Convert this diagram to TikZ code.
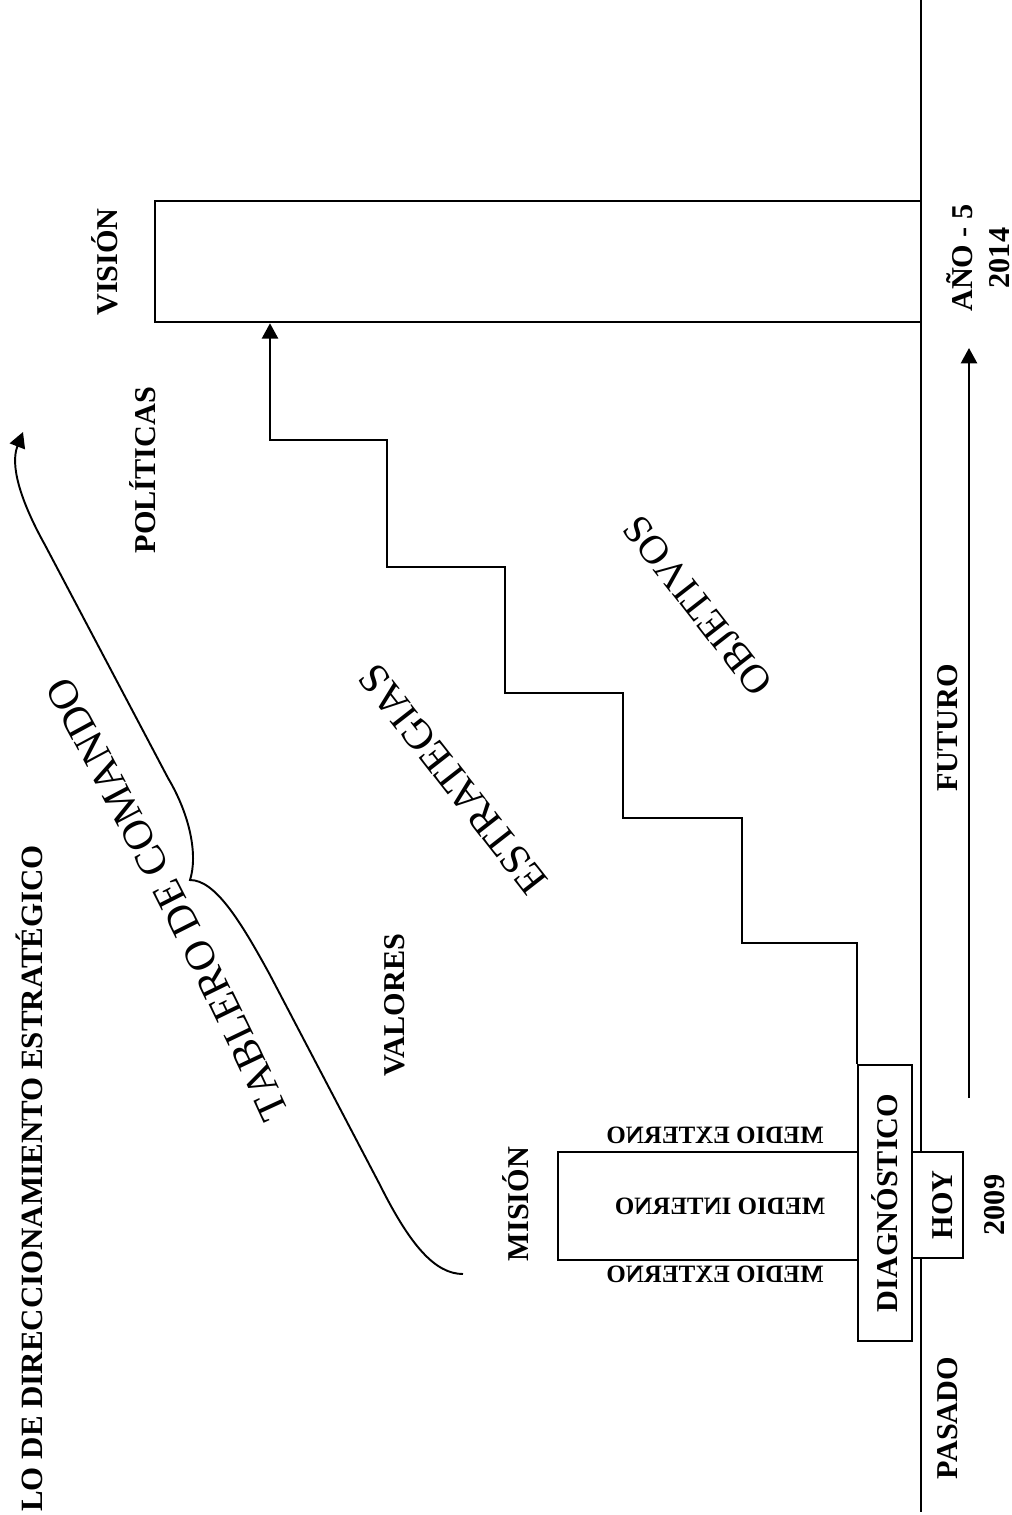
\documentclass[tikz,border=0pt]{standalone}
\usepackage{fontspec}
\setmainfont{Liberation Serif}
\usetikzlibrary{arrows.meta,decorations.text}
\newcommand\tabfont{\fontsize{12}{14}\selectfont}
\begin{document}
\begin{tikzpicture}[x=0.01cm,y=-0.01cm,
  line width=0.7pt,
  tip/.style={-{Triangle[width=4.6pt,length=4.4pt]}},
  boxnode/.style={draw, inner sep=0pt},
  lbl/.style={font=\bfseries\fontsize{8.6}{10.5}\selectfont, rotate=90, inner sep=0pt},
  medio/.style={font=\bfseries\fontsize{7.1}{8.5}\selectfont, xscale=-1, inner sep=0pt},
  slant/.style={font=\fontsize{12}{14}\selectfont, rotate=128, inner sep=0pt}]
\useasboundingbox (0,0) rectangle (1011,1515);

% time axis
\coordinate (ax0) at (921,0);
\coordinate (ax1) at (921,1512);
\draw (ax0) -- (ax1);

% boxes
\node[boxnode, minimum width=7.66cm, minimum height=1.21cm] (vision) at (538,261.5) {};
\node[boxnode, minimum width=3.00cm, minimum height=1.08cm] (mision) at (708,1206) {};
\node[boxnode, fill=white, minimum width=0.54cm, minimum height=2.76cm] (diag) at (885,1203) {};
\node[boxnode, fill=white, minimum width=0.51cm, minimum height=1.06cm] (hoy) at (937.5,1205) {};

% staircase up to the vision
\coordinate (s1) at (742,943);
\coordinate (s2) at (623,818);
\coordinate (s3) at (505,693);
\coordinate (s4) at (387,567);
\coordinate (s5) at (270,440);
\draw[tip] (diag.north west) |- (s1) |- (s2) |- (s3) |- (s4) |- (s5) -- (s5 |- vision.south);

% future arrow
\coordinate (f0) at (969,1098);
\coordinate (f1) at (969,348);
\draw[tip] (f0) -- (f1);

% brace with arrow
\coordinate (b0) at (463,1274);
\coordinate (bc) at (190,880);
\coordinate (b1) at (23,432);
\draw[tip, line width=0.55pt] (b0) .. controls (435,1274) and (410,1245) .. (380,1185)
  -- (270,975) .. controls (240,920) and (215,880) .. (bc)
  .. controls (198,855) and (190,815) .. (168,778)
  -- (45,545) .. controls (20,500) and (10,465) .. (b1);

% curved heading along the brace
\coordinate (tb0) at (297,1128);
\coordinate (tb1) at (60,660);
\path[decorate, decoration={text along path, text={|\tabfont|TABLERO DE COMANDO}, text align=center}]
  (tb0) .. controls (228,975) and (138,800) .. (tb1);

% labels
\node[lbl, font=\bfseries\fontsize{8.8}{10}\selectfont, anchor=west] (title) at (29,1513) {LO DE DIRECCIONAMIENTO ESTRATÉGICO};
\node[lbl] (tvision) at (105,262) {VISIÓN};
\node[lbl] (tpol) at (143,470) {POLÍTICAS};
\node[lbl] (tval) at (395,1005) {VALORES};
\node[lbl] (tmis) at (516,1204) {MISIÓN};
\node[lbl] (tdiag) at (diag) {DIAGNÓSTICO};
\node[lbl] (thoy) at (943,1205) {HOY};
\node[lbl] (t2009) at (995,1205) {2009};
\node[lbl] (tpas) at (948,1418) {PASADO};
\node[lbl] (tfut) at (948,728) {FUTURO};
\node[lbl, align=center] (tano) at (978,258) {AÑO - 5\\2014};

\node[medio] (me1) at (715,1135) {MEDIO EXTERNO};
\node[medio] (mi) at (720,1206) {MEDIO INTERNO};
\node[medio] (me2) at (715,1274) {MEDIO EXTERNO};

\node[slant] (test) at (453,779) {ESTRATEGIAS};
\node[slant, font=\fontsize{11.5}{14}\selectfont] (tobj) at (698,606) {OBJETIVOS};
\end{tikzpicture}
\end{document}
